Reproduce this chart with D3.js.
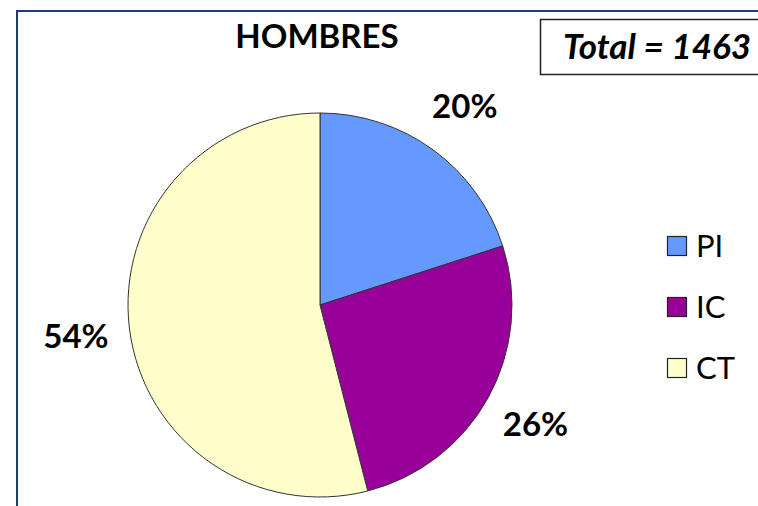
<!DOCTYPE html>
<html>
<head>
<meta charset="utf-8">
<script src="https://cdn.jsdelivr.net/npm/d3@7"></script>
<style>
  body { margin: 0; background: #fff; }
  svg { display: block; font-family: Lato, "Open Sans", sans-serif; }
</style>
</head>
<body>
<div id="chart"></div>
<script>
/* DATA */
const categories = ["PI", "IC", "CT"];
const counts = [293, 380, 790];
const colors = ["#6699FF", "#990099", "#FFFFCC"];
const title = "HOMBRES";
const totalLabel = "Total = 1463";

/* CONSTANTS */
const width = 758,
  height = 506,
  cx = 320,
  cy = 305,
  radius = 192,
  labelRadius = 246;

const svg = d3.select("#chart")
  .append("svg")
  .attr("width", width)
  .attr("height", height);

// outer frame (cropped on right/bottom)
svg.append("path")
  .attr("d", `M17,${height + 5} L17,11 L${width + 5},11`)
  .attr("fill", "none")
  .attr("stroke", "#1F3A7A")
  .attr("stroke-width", 2);

// title
svg.append("text")
  .attr("x", 317)
  .attr("y", 48)
  .attr("text-anchor", "middle")
  .attr("font-size", 33)
  .attr("font-weight", "bold")
  .text(title);

// total box
svg.append("rect")
  .attr("x", 540.5)
  .attr("y", 19.5)
  .attr("width", 240)
  .attr("height", 55)
  .attr("fill", "#fff")
  .attr("stroke", "#222")
  .attr("stroke-width", 1.5);

svg.append("text")
  .attr("x", 563)
  .attr("y", 59)
  .attr("font-size", 35)
  .attr("font-weight", "bold")
  .attr("font-style", "italic")
  .text(totalLabel);

// pie
const total = d3.sum(counts);
const pie = d3.pie().sort(null).value(d => d.value);
const arcs = pie(categories.map((c, i) => ({ name: c, value: counts[i], color: colors[i] })));
const arc = d3.arc().innerRadius(0).outerRadius(radius);
const labelArc = d3.arc().innerRadius(labelRadius).outerRadius(labelRadius);

const g = svg.append("g").attr("transform", `translate(${cx},${cy})`);

g.selectAll("path.slice")
  .data(arcs)
  .join("path")
  .attr("class", "slice")
  .attr("d", arc)
  .attr("fill", d => d.data.color)
  .attr("stroke", "#333")
  .attr("stroke-width", 1);

g.selectAll("text.pct")
  .data(arcs)
  .join("text")
  .attr("class", "pct")
  .attr("transform", d => `translate(${labelArc.centroid(d)})`)
  .attr("text-anchor", "middle")
  .attr("dy", "0.36em")
  .attr("font-size", 33)
  .attr("font-weight", "bold")
  .text(d => d3.format(".0%")(d.data.value / total));

// legend
const legend = svg.append("g").attr("transform", "translate(667,236)");
const item = legend.selectAll("g")
  .data(arcs)
  .join("g")
  .attr("transform", (d, i) => `translate(0,${i * 61})`);

item.append("rect")
  .attr("x", 0.5)
  .attr("y", 0.5)
  .attr("width", 19)
  .attr("height", 19)
  .attr("fill", d => d.data.color)
  .attr("stroke", "#222")
  .attr("stroke-width", 1.2);

item.append("text")
  .attr("x", 29)
  .attr("y", 21)
  .attr("font-size", 31)
  .text(d => d.data.name);
</script>
</body>
</html>
